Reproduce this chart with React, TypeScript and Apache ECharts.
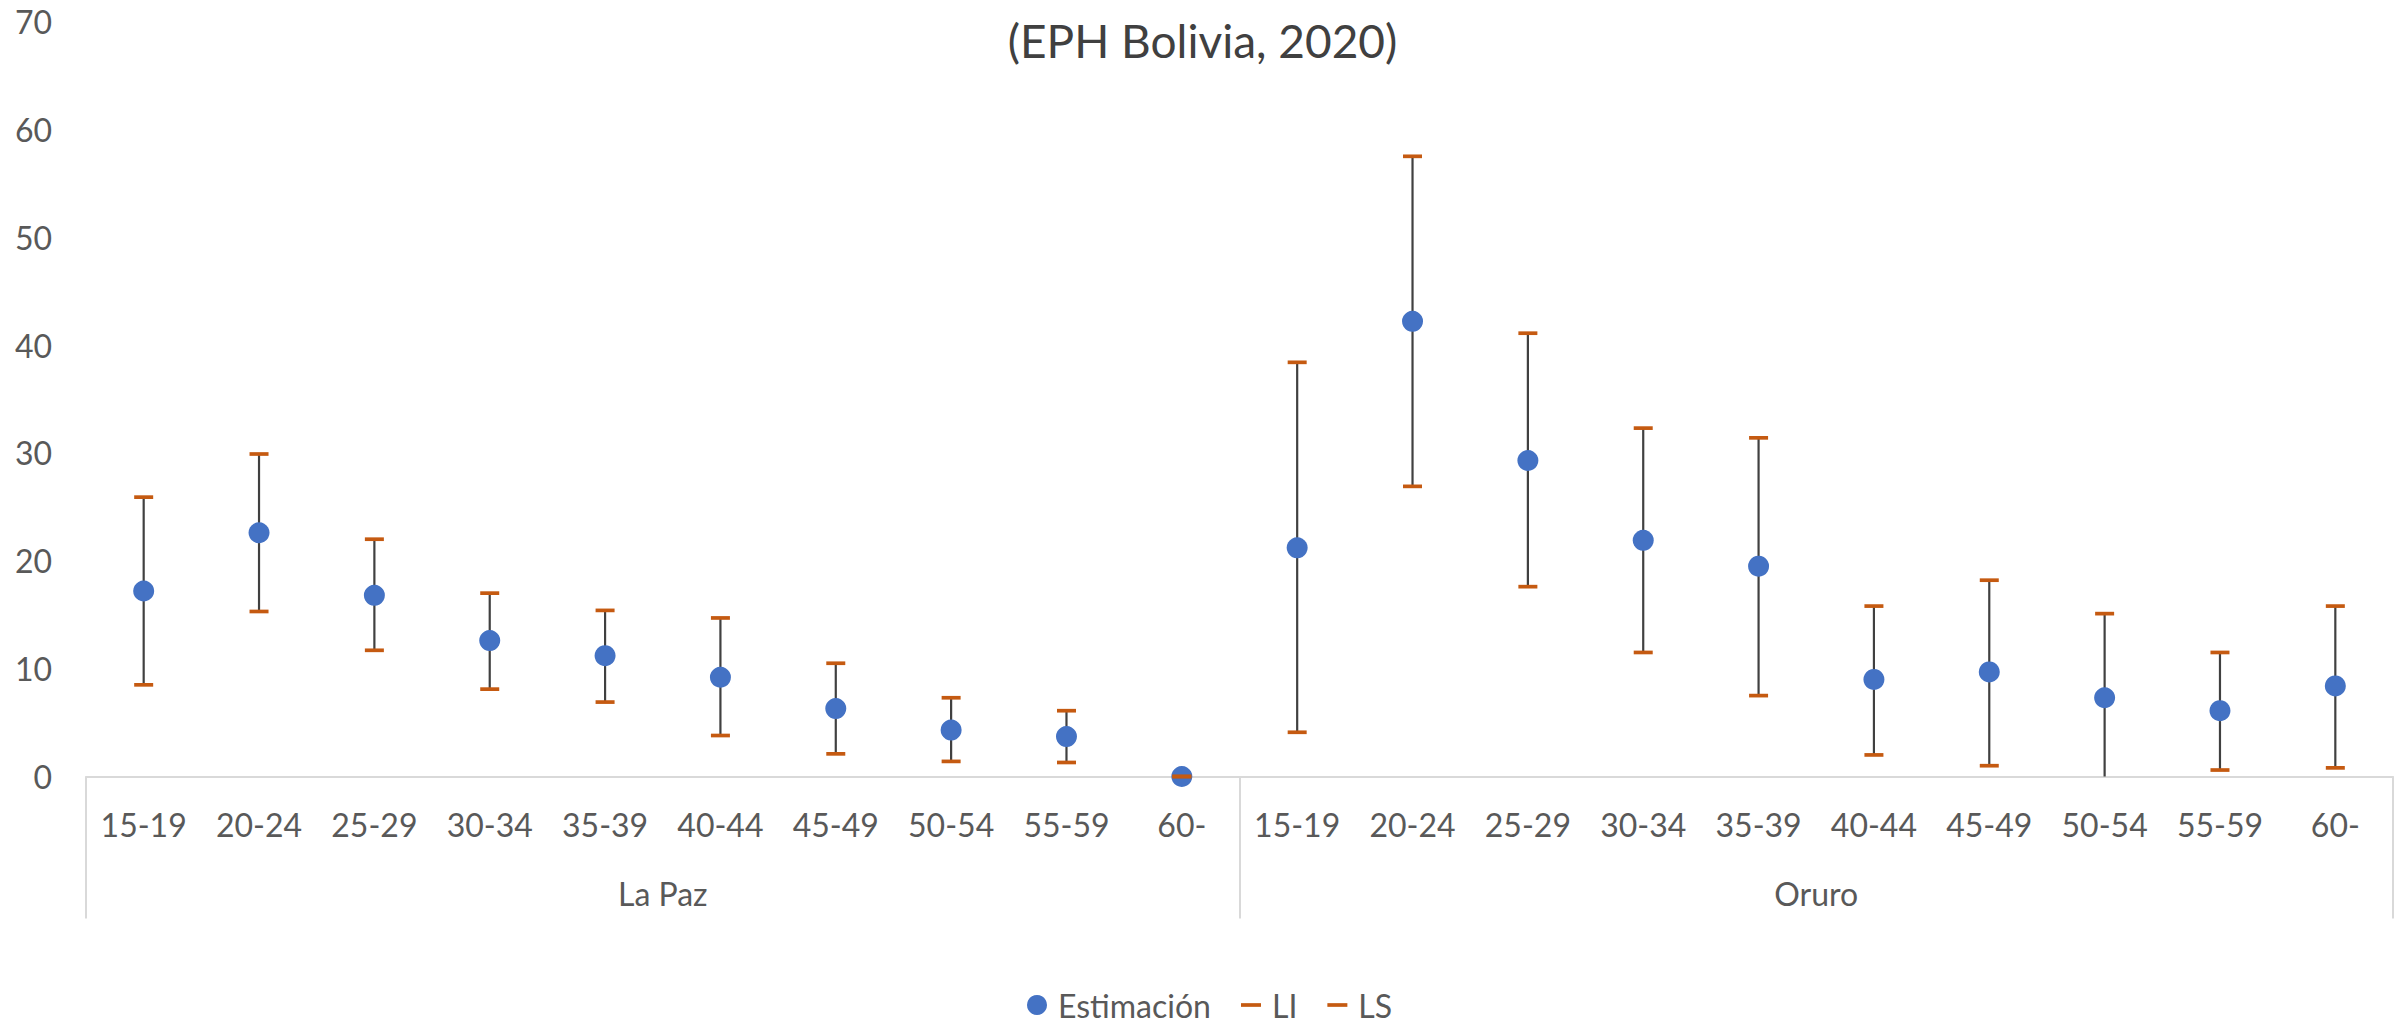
import React, { useEffect, useRef } from "react";
import * as echarts from "echarts";

const groups = ["La Paz", "Oruro"];
const ageGroups = ["15-19", "20-24", "25-29", "30-34", "35-39", "40-44", "45-49", "50-54", "55-59", "60-"];

const estLaPaz = [17.2, 22.6, 16.8, 12.6, 11.2, 9.2, 6.3, 4.3, 3.7, 0];
const liLaPaz = [8.5, 15.3, 11.7, 8.1, 6.9, 3.8, 2.1, 1.4, 1.3, 0];
const lsLaPaz = [25.9, 29.9, 22.0, 17.0, 15.4, 14.7, 10.5, 7.3, 6.1, 0];

const estOruro = [21.2, 42.2, 29.3, 21.9, 19.5, 9.0, 9.7, 7.3, 6.1, 8.4];
const liOruro = [4.1, 26.9, 17.6, 11.5, 7.5, 2.0, 1.0, -0.6, 0.6, 0.8];
const lsOruro = [38.4, 57.5, 41.1, 32.3, 31.4, 15.8, 18.2, 15.1, 11.5, 15.8];

const yTicks = { min: 0, max: 70, interval: 10 };

export default function App() {
  const ref = useRef<HTMLDivElement>(null);
  useEffect(() => {
    if (!ref.current) return;
    const chart = echarts.init(ref.current, null, { renderer: "svg" });
    const font = "Lato";
    const categories: string[] = [];
    groups.forEach((g) => ageGroups.forEach((a) => categories.push(g + "|" + a)));
    const est = [...estLaPaz, ...estOruro];
    const li = [...liLaPaz, ...liOruro];
    const ls = [...lsLaPaz, ...lsOruro];
    const estData = est.map((v, i) => [i, v]);
    const liData = li.map((v, i) => [i, v]);
    const lsData = ls.map((v, i) => [i, v]);
    const barData = est.map((v, i) => [i, li[i], ls[i]]);
    const orange = "#C55A11";
    const blue = "#4472C4";
    const capIcon = "path://M0,0H20V3.7H0Z";

    chart.setOption({
      animation: false,
      backgroundColor: "#ffffff",
      title: {
        text: "(EPH Bolivia, 2020)",
        left: "center",
        top: 12,
        textStyle: { fontFamily: font, fontSize: 46, fontWeight: "normal", color: "#404040" },
      },
      legend: {
        left: 1022,
        top: 984,
        itemWidth: 20,
        itemHeight: 20,
        itemGap: 30,
        textStyle: { fontFamily: font, fontSize: 32, color: "#595959", padding: [0, 0, 0, 6] },
        data: [
          { name: "Estimación", icon: "circle" },
          { name: "LI", icon: capIcon },
          { name: "LS", icon: capIcon },
        ],
      },
      grid: { left: 86, right: 12, top: 21.5, bottom: 254.5, containLabel: false },
      xAxis: [
        {
          type: "category",
          data: categories,
          boundaryGap: true,
          axisLine: { show: true, lineStyle: { color: "#D9D9D9", width: 2 } },
          axisTick: { show: false },
          axisLabel: {
            interval: 0,
            margin: 32,
            fontFamily: font,
            fontSize: 32,
            color: "#595959",
            formatter: (v: string) => v.split("|")[1],
          },
          splitLine: { show: false },
        },
        {
          type: "category",
          data: groups,
          position: "bottom",
          boundaryGap: true,
          axisLine: { show: false },
          axisTick: { show: true, length: 142, lineStyle: { color: "#D9D9D9", width: 2 } },
          axisLabel: { interval: 0, margin: 101, fontFamily: font, fontSize: 32, color: "#595959" },
          splitLine: { show: false },
        },
      ],
      yAxis: {
        type: "value",
        min: yTicks.min,
        max: yTicks.max,
        interval: yTicks.interval,
        axisLine: { show: false },
        axisTick: { show: false },
        splitLine: { show: false },
        axisLabel: { margin: 34, fontFamily: font, fontSize: 32, color: "#595959" },
      },
      series: [
        {
          type: "custom",
          name: "stems",
          xAxisIndex: 0,
          clip: true,
          data: barData,
          encode: { x: 0, y: [1, 2] },
          renderItem: (params: any, api: any) => {
            const x = api.value(0);
            const lo = api.coord([x, api.value(1)]);
            const hi = api.coord([x, api.value(2)]);
            return {
              type: "line",
              shape: { x1: lo[0], y1: lo[1], x2: hi[0], y2: hi[1] },
              style: { stroke: "#404040", lineWidth: 2.2 },
            };
          },
          z: 1,
        },
        {
          type: "scatter",
          name: "Estimación",
          xAxisIndex: 0,
          data: estData,
          symbol: "circle",
          symbolSize: 21,
          itemStyle: { color: blue, opacity: 1 },
          z: 2,
        },
        {
          type: "scatter",
          name: "LI",
          xAxisIndex: 0,
          data: liData,
          clip: true,
          symbol: "rect",
          symbolSize: [19, 3.7],
          itemStyle: { color: orange, opacity: 1 },
          z: 3,
        },
        {
          type: "scatter",
          name: "LS",
          xAxisIndex: 0,
          data: lsData,
          clip: true,
          symbol: "rect",
          symbolSize: [19, 3.7],
          itemStyle: { color: orange, opacity: 1 },
          z: 3,
        },
      ],
    });
    return () => chart.dispose();
  }, []);
  return (
    <div
      ref={ref}
      style={{ position: "fixed", left: 0, top: 0, width: 2405, height: 1031, background: "#fff" }}
    />
  );
}
